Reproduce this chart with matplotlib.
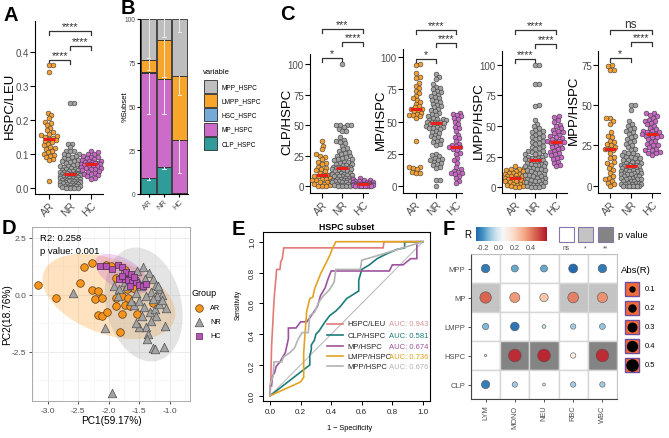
import numpy as np
import matplotlib
matplotlib.use('Agg')
import matplotlib.pyplot as plt
from matplotlib.patches import Rectangle
from matplotlib.transforms import blended_transform_factory
from matplotlib.colors import LinearSegmentedColormap, TwoSlopeNorm

plt.rcParams['font.family'] = ['Liberation Sans', 'DejaVu Sans']

# ---------------- data ----------------
groups = ['AR', 'NR', 'HC']
group_colors = ['#F6A033', '#A3A3A3', '#C967C6']

A_AR = [0.363, 0.363, 0.342, 0.222, 0.215, 0.205, 0.195, 0.19, 0.185, 0.178, 0.17, 0.165, 0.16, 0.155,
        0.152, 0.15, 0.148, 0.145, 0.14, 0.138, 0.135, 0.13, 0.125, 0.12, 0.118, 0.115, 0.11, 0.105,
        0.1, 0.098, 0.095, 0.09, 0.085, 0.082, 0.019]
A_NR = [0.251, 0.251, 0.13, 0.13, 0.12, 0.11, 0.11, 0.108, 0.1, 0.1, 0.097, 0.093, 0.09, 0.088, 0.085,
        0.082, 0.08, 0.078, 0.075, 0.073, 0.07, 0.068, 0.066, 0.064, 0.062, 0.06, 0.058, 0.057, 0.055,
        0.053, 0.052, 0.05, 0.049, 0.048, 0.046, 0.045, 0.044, 0.043, 0.042, 0.041, 0.04, 0.04, 0.039,
        0.038, 0.037, 0.036, 0.035, 0.034, 0.033, 0.032, 0.031, 0.03, 0.029, 0.028, 0.027, 0.026, 0.025,
        0.024, 0.023, 0.022, 0.021, 0.02, 0.019, 0.018, 0.017, 0.016, 0.015, 0.014, 0.013, 0.012, 0.011,
        0.01, 0.009, 0.008, 0.007, 0.006, 0.005, 0.004, 0.003, 0.002, 0.001, 0.0, 0.0, 0.0]
A_HC = [0.11, 0.105, 0.1, 0.1, 0.095, 0.092, 0.09, 0.088, 0.085, 0.083, 0.08, 0.078, 0.076, 0.075, 0.074,
        0.072, 0.071, 0.07, 0.07, 0.069, 0.068, 0.066, 0.065, 0.063, 0.062, 0.06, 0.058, 0.056, 0.055,
        0.052, 0.05, 0.048, 0.045, 0.042, 0.04, 0.037, 0.034, 0.03, 0.027]

CLP_AR = [37, 33, 30, 26, 25, 24, 22, 20, 19, 18, 16, 15, 14, 13, 12, 11, 10, 9, 9, 8, 8, 7, 6, 6, 5, 5, 4,
          3, 3, 2, 2, 1, 0, 0, 0]
CLP_NR = [100, 50, 50, 50, 50, 48, 47, 45, 45, 40, 38, 37, 36, 35, 33, 31, 30, 29, 28, 27, 26, 25, 25, 24,
          23, 22, 22, 21, 20, 20, 19, 18, 18, 17, 17, 16, 16, 16, 15, 15, 15, 15, 14, 14, 13, 13, 12, 12,
          11, 11, 10, 10, 10, 9, 9, 8, 8, 8, 7, 7, 6, 6, 6, 5, 5, 5, 4, 4, 4, 3, 3, 3, 2, 2, 2, 1, 1, 1, 0,
          0, 0, 0]
CLP_HC = [7, 6, 5, 5, 4, 4, 3, 3, 3, 2.5, 2, 2, 2, 2, 1.5, 1.5, 1.5, 1.4, 1.4, 1.2, 1, 1, 1, 0.8, 0.6,
          0.5, 0.5, 0.3, 0, 0, 0, 0, 0, 0, 0]

MP_AR = [95, 94, 88, 85, 84, 80, 78, 76, 74, 72, 70, 68, 67, 65, 64, 62, 61, 60, 60, 59, 58, 57, 56, 55,
         55, 54, 53, 35, 15, 15, 14, 13, 11, 10, 10]
MP_NR = [87, 85, 83, 79, 77, 76, 75, 74, 73, 72, 71, 70, 69, 68, 67, 66, 65, 64, 63, 62, 61, 60, 59, 58,
         57, 56, 55, 54, 53, 52, 52, 51, 51, 50, 50, 50, 50, 49, 49, 48, 48, 47, 47, 46, 46, 45, 45, 44,
         43, 42, 41, 40, 39, 38, 37, 36, 35, 34, 33, 32, 25, 24, 23, 22, 21, 20, 20, 19, 18, 17, 16, 15,
         14, 5, 5, 0]
MP_HC = [57, 56, 55, 54, 53, 52, 50, 48, 46, 45, 43, 40, 38, 37, 35, 33, 32, 31, 30, 30, 29, 28, 26, 25,
         22, 20, 18, 15, 13, 12, 11, 10, 10, 9, 8, 6, 4, 2]

LMPP_AR = [17, 16, 15, 15, 14, 13, 13, 12, 12, 11, 11, 10, 10, 9, 9, 9, 8, 8, 8, 7, 7, 6, 6, 5, 5, 4, 4,
           3, 3, 2, 2, 1, 1, 0, 0]
LMPP_NR = [100, 100, 84, 84, 67, 66, 55, 52, 50, 48, 47, 46, 45, 44, 43, 42, 41, 40, 39, 38, 37, 36, 35,
           34, 33, 32, 31, 30, 30, 29, 28, 27, 27, 26, 25, 25, 24, 24, 23, 23, 22, 22, 22, 21, 21, 20,
           20, 19, 19, 18, 18, 17, 17, 16, 16, 15, 15, 14, 14, 13, 12, 12, 11, 10, 10, 9, 9, 8, 8, 7, 6,
           6, 5, 5, 4, 4, 3, 3, 2, 2, 1, 1, 0, 0, 0]
LMPP_HC = [58, 57, 55, 53, 51, 50, 48, 47, 46, 45, 44, 43, 42, 41, 40, 39, 38, 38, 37, 37, 36, 35, 34,
           33, 32, 31, 30, 29, 28, 27, 26, 25, 24, 23, 21, 20, 18, 17]

MPP_AR = [75, 74, 72, 72, 42, 42, 40, 38, 33, 31, 30, 28, 27, 26, 25, 24, 23, 23, 22, 20, 18, 17, 15, 14,
          13, 11, 10, 8, 6, 5, 4, 3, 2, 1, 0]
MPP_NR = [50, 50, 47, 40, 38, 37, 36, 35, 34, 33, 32, 31, 30, 29, 28, 27, 26, 25, 24, 23, 22, 21, 20, 20,
          19, 19, 18, 18, 17, 17, 16, 16, 15, 15, 14, 14, 13, 13, 13, 12, 12, 12, 12, 11, 11, 11, 10, 10,
          10, 9, 9, 9, 8, 8, 8, 7, 7, 7, 6, 6, 6, 5, 5, 5, 4, 4, 4, 3, 3, 3, 2, 2, 2, 1, 1, 1, 1, 0, 0, 0,
          0, 0, 0, 0, 0]
MPP_HC = [45, 45, 44, 43, 42, 41, 40, 40, 39, 38, 37, 36, 35, 34, 34, 33, 33, 32, 32, 32, 31, 31, 30, 30,
          29, 28, 27, 26, 25, 25, 24, 23, 22, 22, 21, 20, 20, 19]

# panel B: stacked mean composition (%) and sd
B_subsets = ['CLP_HSPC', 'MP_HSPC', 'HSC_HSPC', 'LMPP_HSPC', 'MPP_HSPC']
B_colors = {'MPP_HSPC': '#BEBEBE', 'LMPP_HSPC': '#F8A62B', 'HSC_HSPC': '#74A9D8',
            'MP_HSPC': '#CD6BC9', 'CLP_HSPC': '#2F9C99'}
B_mean = {'CLP_HSPC': [9.0, 15.5, 0.8], 'MP_HSPC': [60.0, 50.0, 30.2], 'HSC_HSPC': [0.5, 0.5, 0.0],
          'LMPP_HSPC': [7.0, 22.0, 36.5], 'MPP_HSPC': [23.5, 12.0, 32.5]}
B_sd = {'CLP_HSPC': [1.0, 1.2, 0.3], 'MP_HSPC': [23.5, 19.8, 19.0], 'HSC_HSPC': [0, 0, 0],
        'LMPP_HSPC': [5.5, 21.0, 11.0], 'MPP_HSPC': [22.3, 10.0, 7.6]}

# panel D: PCA scores
D_AR_x = [-3.16, -2.86, -2.47, -2.40, -2.28, -2.28, -2.18, -2.23, -2.12, -2.17, -2.11, -2.03, -2.04,
          -1.96, -1.88, -1.88, -1.81, -1.78, -1.78, -1.74, -1.70, -1.69, -1.66, -1.74, -1.60, -1.54,
          -1.28, -1.88]
D_AR_y = [0.45, -0.13, 0.53, 1.23, 1.39, 0.23, 0.18, -0.18, -0.13, -0.86, -0.91, -0.76, 1.32, 1.26,
          -0.13, -0.47, -1.61, -0.04, -0.85, -0.44, 0.26, -0.13, -0.50, 1.10, 0.29, -0.85, -0.37, 0.75]
D_NR_x = [-2.58, -2.07, -1.95, -1.77, -1.66, -1.74, -1.91, -1.44, -1.34, -1.28, -1.22, -1.17, -1.13,
          -1.21, -1.31, -1.39, -1.47, -1.55, -1.58, -1.50, -1.42, -1.33, -1.25, -1.17, -1.07, -1.22,
          -1.31, -1.39, -1.36, -1.38, -1.27, -1.25, -1.10, -1.08, -1.50, -1.63, -1.62, -1.52, -1.40,
          -1.54, -1.70, -1.83, -1.85, -1.13, -1.28, -1.45, -1.56, -1.19]
D_NR_y = [0.09, -1.46, -4.30, 1.02, 0.82, 0.56, 0.38, 1.21, 0.96, 0.70, 0.44, 0.26, 0.01, -0.03, 0.12,
          -0.03, 0.41, 0.09, -0.44, -0.25, -0.54, -0.76, -0.61, -0.39, -0.58, -0.91, -1.13, -1.42, -1.71,
          -1.93, -2.34, -2.37, -2.30, -1.36, -1.39, -0.25, 0.70, 0.63, 0.70, 1.07, 0.41, 0.26, -0.03,
          -0.22, -0.18, -0.91, -1.23, 0.38]
D_HC_x = [-2.15, -2.05, -1.95, -1.85, -1.78, -1.72, -1.64, -1.84, -1.74, -1.68, -1.62, -1.55, -1.51,
          -1.65, -1.58, -1.44, -1.39, -1.79]
D_HC_y = [1.26, 1.29, 1.14, 1.33, 1.21, 1.02, 0.92, 0.70, 0.70, 0.66, 0.56, 0.58, 0.44, 0.38, 0.77,
          0.38, 0.48, 0.85]
# 95% ellipse summaries (center x, center y, half-range x, half-range y, correlation)
D_ellipses = {'AR': (-2.0, -0.07, 1.09, 1.87, -0.40),
              'NR': (-1.43, -0.42, 0.64, 2.50, -0.20),
              'HC': (-1.78, 0.92, 0.45, 0.88, -0.55)}
D_stats = ['R2: 0.258', 'p value: 0.001']

# panel E: ROC curves
E_names = ['HSPC/LEU', 'CLP/HSPC', 'MP/HSPC', 'LMPP/HSPC', 'MPP/HSPC']
E_auc = [0.943, 0.581, 0.674, 0.736, 0.676]
E_colors = ['#E07B78', '#1C7C7B', '#9D529D', '#E2A222', '#B3B3B3']
E_auc_colors = ['#D7959B', '#1C7C7B', '#9D529D', '#E2A222', '#B3B3B3']
E_fpr = [
    [0, 0.005, 0.01, 0.017, 0.025, 0.03, 0.04, 0.043, 0.065, 0.07, 0.08, 0.087, 0.09, 0.74, 0.745, 1.0],
    [0, 0.26, 0.26, 0.27, 0.27, 0.29, 0.30, 0.32, 0.34, 0.36, 0.39, 0.43, 0.46, 0.50, 0.58, 0.58, 0.60,
     0.65, 0.70, 0.76, 0.83, 0.88, 0.88, 1.0],
    [0, 0, 0.01, 0.017, 0.03, 0.04, 0.065, 0.1, 0.12, 0.12, 0.17, 0.2, 0.24, 0.27, 0.31, 0.33, 0.36, 0.38,
     0.40, 0.78, 0.80, 0.87, 0.92, 0.96, 0.96, 1.0],
    [0, 0.20, 0.22, 0.22, 0.23, 0.24, 0.26, 0.28, 0.29, 0.31, 0.33, 0.35, 0.37, 0.39, 0.41, 0.43, 1.0],
    [0, 0, 0.02, 0.026, 0.076, 0.087, 0.13, 0.16, 0.185, 0.21, 0.25, 0.26, 0.29, 0.32, 0.35, 0.39, 0.42,
     0.43, 0.59, 0.60, 0.67, 1.0]]
E_tpr = [
    [0, 0.1, 0.32, 0.45, 0.6, 0.67, 0.78, 0.82, 0.82, 0.87, 0.89, 0.94, 0.96, 0.96, 1.0, 1.0],
    [0, 0.20, 0.26, 0.30, 0.33, 0.36, 0.40, 0.42, 0.45, 0.48, 0.52, 0.55, 0.58, 0.63, 0.68, 0.75, 0.82,
     0.85, 0.89, 0.92, 0.95, 0.96, 1.0, 1.0],
    [0, 0.065, 0.065, 0.13, 0.15, 0.19, 0.22, 0.28, 0.37, 0.44, 0.44, 0.48, 0.48, 0.52, 0.58, 0.65, 0.70,
     0.76, 0.81, 0.81, 0.85, 0.85, 0.89, 0.89, 1.0, 1.0],
    [0, 0.09, 0.12, 0.28, 0.42, 0.55, 0.63, 0.64, 0.69, 0.74, 0.79, 0.83, 0.87, 0.91, 0.96, 1.0, 1.0],
    [0, 0.065, 0.13, 0.22, 0.22, 0.25, 0.28, 0.31, 0.37, 0.41, 0.41, 0.52, 0.54, 0.61, 0.65, 0.69, 0.74,
     0.82, 0.82, 0.88, 0.90, 1.0]]

# panel F: correlation matrix
F_rows = ['MPP', 'MP', 'LMPP', 'HSPC', 'CLP']
F_cols = ['LYM', 'MONO', 'NEU', 'RBC', 'WBC']
F_R = [[-0.25, -0.17, -0.17, -0.28, -0.25],
       [0.45, 0.35, 0.24, 0.40, 0.36],
       [-0.14, -0.26, -0.05, -0.10, -0.12],
       [0.02, 0.56, 0.57, 0.10, 0.56],
       [-0.24, -0.10, -0.03, -0.10, -0.10]]
F_p = [[0, 0, 0, 0, 0],
       [1, 0, 0, 1, 1],
       [0, 0, 0, 0, 0],
       [0, 2, 2, 0, 2],
       [0, 0, 0, 0, 0]]
F_plabels = ['ns', '*', '**']
F_pcolors = ['#FFFFFF', '#C4C4C4', '#848484']
F_size_levels = [0.1, 0.2, 0.3, 0.4, 0.5]
F_cbar_ticks = [-0.2, 0.0, 0.2, 0.4]

# ---------------- figure ----------------
W, H = 669, 439
fig = plt.figure(figsize=(W / 100, H / 100), dpi=100)


def add_ax(l, t, r, b, **kw):
    return fig.add_axes([l / W, 1 - b / H, (r - l) / W, (b - t) / H], **kw)


def classic(ax, fs=7):
    for s in ['top', 'right']:
        ax.spines[s].set_visible(False)
    for s in ['left', 'bottom']:
        ax.spines[s].set_linewidth(0.8)
        ax.spines[s].set_color('black')
    ax.tick_params(length=3.5, width=0.8, color='black', labelsize=fs, labelcolor='#4D4D4D', pad=0.9)


def swarm_offsets(vals, ppu, dcol=3.9, step=0.5, maxw=10.0):
    order = np.argsort(vals, kind='stable')
    cands = [0.0]
    k = 1
    while k * step <= maxw:
        cands += [k * step, -k * step]
        k += 1
    placed = []
    offs = np.zeros(len(vals))
    for i in order:
        y = vals[i] * ppu
        near = [(px, py) for px, py in placed if abs(py - y) < dcol]
        best = None
        bestd, bestc = -1, 0.0
        for c in cands:
            if not near:
                best = c
                break
            dmin = min(np.hypot(c - px, y - py) for px, py in near)
            if dmin >= dcol:
                best = c
                break
            if dmin > bestd:
                bestd, bestc = dmin, c
        if best is None:
            best = bestc
        offs[i] = best
        placed.append((best, y))
    return offs


def dot_panel(rect, series, ylim, yticks, yticklabels, xlim, brackets):
    l, t, r, b = rect
    ax = add_ax(l, t, r, b)
    ax.set_xlim(xlim)
    ax.set_ylim(ylim)
    ppu_y = (b - t) / (ylim[1] - ylim[0])
    ppu_x = (r - l) / (xlim[1] - xlim[0])
    for gi, (vals, col) in enumerate(zip(series, group_colors)):
        vals = np.asarray(vals, float)
        offs = swarm_offsets(vals, ppu_y)
        ax.scatter(gi + 1 + offs / ppu_x, vals, s=12, c=col, edgecolors='#3A3A3A', linewidths=0.4,
                   zorder=3, clip_on=False)
        med = np.median(vals)
        ax.plot([gi + 1 - 6 / ppu_x, gi + 1 + 6 / ppu_x], [med, med], color='#E8201C', lw=2.2,
                zorder=4, solid_capstyle='butt', clip_on=False)
    classic(ax, fs=7)
    ax.set_yticks(yticks)
    ax.set_yticklabels(yticklabels)
    ax.set_xticks([1, 2, 3])
    ax.set_xticklabels(groups, rotation=45, ha='right', va='top', rotation_mode='anchor', fontsize=7.5)
    tr = blended_transform_factory(ax.transData, ax.transAxes)
    hpx = b - t
    for g1, g2, ypx, lab in brackets:
        ya = (b - ypx) / hpx
        tk = 3.5 / hpx
        ax.plot([g1, g1, g2, g2], [ya - tk, ya, ya, ya - tk], transform=tr, color='#333333', lw=0.9,
                clip_on=False)
        if lab == 'ns':
            ax.text((g1 + g2) / 2, ya + 3.0 / hpx, lab, transform=tr, ha='center', va='baseline',
                    fontsize=8.5, color='#333333')
        else:
            ax.text((g1 + g2) / 2, ya + 1.5 / hpx, lab, transform=tr, ha='center', va='baseline',
                    fontsize=7.8, color='#333333')
    return ax


# ---- A ----
axA = dot_panel((35, 22, 103, 195), [A_AR, A_NR, A_HC], (-0.018, 0.492),
                [0, 0.1, 0.2, 0.3, 0.4], ['0.0', '0.1', '0.2', '0.3', '0.4'], (0.309, 3.594),
                [(1, 3, 32, '****'), (2, 3, 47, '****'), (1, 2, 61, '****')])

# ---- C panels ----
c_ticks100 = [0, 25, 50, 75, 100]
dot_panel((310, 55, 368, 194), [CLP_AR, CLP_NR, CLP_HC], (-5.7, 108.2), c_ticks100,
          [str(v) for v in c_ticks100], (0.415, 3.244),
          [(1, 3, 30, '***'), (2, 3, 43, '****'), (1, 2, 59, '*')])
dot_panel((403, 50, 462, 194), [MP_AR, MP_NR, MP_HC], (-5.4, 106.4), c_ticks100,
          [str(v) for v in c_ticks100], (0.371, 3.297),
          [(1, 3, 31, '****'), (2, 3, 44, '****'), (1, 2, 60, '*')])
dot_panel((502, 52, 567, 194), [LMPP_AR, LMPP_NR, LMPP_HC], (-4.6, 111.1), c_ticks100,
          [str(v) for v in c_ticks100], (0.366, 3.537),
          [(1, 3, 31, '****'), (2, 3, 45, '****'), (1, 2, 60, '****')])
dot_panel((598, 52, 660, 194), [MPP_AR, MPP_NR, MPP_HC], (-4.5, 83.5), [0, 25, 50, 75],
          ['0', '25', '50', '75'], (0.424, 3.4),
          [(1, 3, 31, 'ns'), (2, 3, 43, '****'), (1, 2, 59, '*')])

# ---- B ----
axB = add_ax(140, 20, 188, 195)
axB.set_xlim(0.45, 3.55)
axB.set_ylim(0, 100)
xs = np.array([1, 2, 3])
bottoms = np.zeros(3)
for sub in B_subsets:
    h = np.array(B_mean[sub])
    axB.bar(xs, h, bottom=bottoms, width=0.94, color=B_colors[sub], edgecolor='#2B2B2B', lw=0.6,
            zorder=2)
    tops = bottoms + h
    sd = np.array(B_sd[sub])
    for xi, tp, s in zip(xs, tops, sd):
        if s > 0.5:
            axB.plot([xi, xi], [tp - s, tp], color='#EDEDED', lw=0.7, zorder=3)
            axB.plot([xi - 0.12, xi + 0.12], [tp - s, tp - s], color='#EDEDED', lw=0.7, zorder=3)
    bottoms = tops
classic(axB, fs=4.8)
axB.tick_params(length=2, pad=1)
axB.set_yticks([0, 25, 50, 75, 100])
axB.set_xticks([1, 2, 3])
axB.set_xticklabels(groups, rotation=45, ha='right', va='top', rotation_mode='anchor', fontsize=5.5)

# ---- D ----
axD = add_ax(32, 228, 190, 402)
axD.set_xlim(-3.26, -0.67)
axD.set_ylim(-4.65, 2.98)
axD.set_xticks([-3.0, -2.5, -2.0, -1.5, -1.0])
axD.set_xticklabels(['-3.0', '-2.5', '-2.0', '-1.5', '-1.0'])
axD.set_yticks([2.5, 0.0, -2.5])
axD.set_yticklabels(['2.5', '0.0', '-2.5'])
axD.set_xticks([-3.25, -2.75, -2.25, -1.75, -1.25, -0.75], minor=True)
axD.set_yticks([1.25, -1.25, -3.75], minor=True)
axD.grid(True, which='major', color='#EBEBEB', lw=0.7, zorder=0)
axD.grid(True, which='minor', color='#F4F4F4', lw=0.5, zorder=0)
axD.set_axisbelow(True)
axD.tick_params(which='minor', length=0)
axD.tick_params(which='major', length=2.5, width=0.6, color='#333333', labelsize=6,
                labelcolor='#4D4D4D', pad=1.5)
for s in axD.spines.values():
    s.set_color('#AAAAAA')
    s.set_linewidth(0.7)
ell_fill = {'AR': '#FF9A1F', 'NR': '#A0A0A0', 'HC': '#C25BC0'}
t = np.linspace(0, 2 * np.pi, 300)
for g in groups:
    cx, cy, dx, dy, rho = D_ellipses[g]
    dl = np.arccos(rho)
    axD.fill(cx + dx * np.cos(t), cy + dy * np.cos(t - dl), color=ell_fill[g], alpha=0.28, lw=0,
             zorder=1)
axD.scatter(D_AR_x, D_AR_y, s=30, marker='o', c='#F7941D', edgecolors='#5A3A10', linewidths=0.5,
            zorder=3)
axD.scatter(D_NR_x, D_NR_y, s=38, marker='^', c='#A3A3A3', edgecolors='#505050', linewidths=0.5,
            zorder=3)
axD.scatter(D_HC_x, D_HC_y, s=22, marker='s', c='#B854B6', edgecolors='#4A2A4A', linewidths=0.5,
            zorder=4)

# ---- E ----
axE = add_ax(263, 233, 430, 402)
axE.set_xlim(-0.046, 1.046)
axE.set_ylim(-0.034, 1.063)
axE.plot([0, 1], [0, 1], color='#BDBDBD', lw=0.8, zorder=1)
for fx, ty, col in zip(E_fpr, E_tpr, E_colors):
    axE.plot(fx, ty, color=col, lw=1.2, zorder=2, solid_joinstyle='miter')
eticks = [0, 0.2, 0.4, 0.6, 0.8, 1.0]
axE.set_xticks(eticks)
axE.set_xticklabels(['%.1f' % v for v in eticks])
axE.set_yticks(eticks)
axE.set_yticklabels(['%.1f' % v for v in eticks], rotation=90, va='center')
for s in axE.spines.values():
    s.set_color('black')
    s.set_linewidth(0.8)
axE.tick_params(length=3, width=0.7, labelsize=5.8, labelcolor='#222222', pad=2)
leg_y = [0.466, 0.394, 0.323, 0.258, 0.193]
for yy, nm, auc, col, acol in zip(leg_y, E_names, E_auc, E_colors, E_auc_colors):
    axE.plot([0.37, 0.48], [yy, yy], color=col, lw=1.2)
    axE.text(0.505, yy, nm, fontsize=5.5, va='center', ha='left', color='#222222')
    axE.text(0.78, yy, 'AUC: %.3f' % auc, fontsize=5.5, va='center', ha='left', color=acol)

# ---- F ----
cmap = LinearSegmentedColormap.from_list('rb', ['#2166AC', '#4393C3', '#92C5DE', '#D1E5F0', '#F7F7F7',
                                                '#FDDBC7', '#F4A582', '#D6604D', '#B2182B'])
norm = TwoSlopeNorm(vmin=-0.29, vcenter=0.05, vmax=0.60)
axF = add_ax(471, 255, 617, 400)
axF.set_xlim(0.5, 5.5)
axF.set_ylim(5.5, 0.5)
Rm = np.array(F_R)
for i in range(len(F_rows)):
    for j in range(len(F_cols)):
        axF.add_patch(Rectangle((j + 0.5, i + 0.5), 1, 1, facecolor=F_pcolors[F_p[i][j]],
                                edgecolor='#D6D6D6', lw=1.0, zorder=1))
ii, jj = np.meshgrid(np.arange(len(F_rows)), np.arange(len(F_cols)), indexing='ij')
sizes = (17 * np.sqrt(np.abs(Rm)) * 0.72) ** 2
axF.scatter(jj.ravel() + 1, ii.ravel() + 1, s=sizes.ravel(), c=cmap(norm(Rm.ravel())),
            edgecolors='#555555', linewidths=0.4, zorder=3)
axF.set_xticks(range(1, 6))
axF.set_xticklabels(F_cols, rotation=90, fontsize=5.3, color='#4D4D4D')
axF.set_yticks(range(1, 6))
axF.set_yticklabels(F_rows, fontsize=5.5, color='#4D4D4D')
axF.tick_params(length=2.5, width=0.6, color='#333333', pad=1.5)
for s in ['left', 'bottom']:
    axF.spines[s].set_color('#444444')
    axF.spines[s].set_linewidth(0.8)
for s in ['top', 'right']:
    axF.spines[s].set_color('#BBBBBB')
    axF.spines[s].set_linewidth(0.6)

# colorbar
axCB = add_ax(476, 228, 547, 242)
grad = np.linspace(-0.29, 0.60, 256)
axCB.imshow(cmap(norm(grad))[None, :, :], extent=[-0.29, 0.60, 0, 1], aspect='auto')
axCB.set_xlim(-0.29, 0.60)
axCB.set_yticks([])
axCB.set_xticks(F_cbar_ticks)
axCB.set_xticklabels(['%.1f' % v for v in F_cbar_ticks], fontsize=5.2, color='#4D4D4D')
axCB.tick_params(length=1.5, width=0.5, pad=0.5, color='white')
for s in axCB.spines.values():
    s.set_visible(False)

# ---------------- overlay: labels & legends ----------------
axO = fig.add_axes([0, 0, 1, 1], zorder=10)
axO.set_xlim(0, W)
axO.set_ylim(H, 0)
axO.axis('off')
axO.patch.set_alpha(0)

for x, y, s in [(4, 21, 'A'), (121, 14, 'B'), (280, 20, 'C'), (2, 234, 'D'), (232, 235, 'E'),
                (443, 235, 'F')]:
    axO.text(x, y, s, fontsize=14.5, fontweight='bold', ha='left', va='baseline')

for x, y, s in [(10, 106, 'HSPC/LEU'), (287, 122, 'CLP/HSPC'), (381, 120, 'MP/HSPC'),
                (479, 121, 'LMPP/HSPC'), (574, 110, 'MPP/HSPC')]:
    axO.text(x, y, s, fontsize=9.5, rotation=90, ha='center', va='center')
axO.text(125, 107, '%Subset', fontsize=5.5, rotation=90, ha='center', va='center')

# B legend
axO.text(203, 73, 'variable', fontsize=5.5, ha='left', va='center')
for k, sub in enumerate(['MPP_HSPC', 'LMPP_HSPC', 'HSC_HSPC', 'MP_HSPC', 'CLP_HSPC']):
    y0 = 81 + k * 14.2
    axO.add_patch(Rectangle((204, y0), 13, 13, facecolor=B_colors[sub], edgecolor='#2B2B2B', lw=0.6))
    axO.text(222, y0 + 6.5, sub, fontsize=4.7, ha='left', va='center')

# D texts and legend
axO.text(40, 239, D_stats[0], fontsize=6.8, ha='left', va='center')
axO.text(40, 252, D_stats[1], fontsize=6.8, ha='left', va='center')
axO.text(111, 421, 'PC1(59.17%)', fontsize=7.3, ha='center', va='center')
axO.text(7, 315, 'PC2(18.76%)', fontsize=7.3, rotation=90, ha='center', va='center')
axO.text(192, 294, 'Group', fontsize=6.5, ha='left', va='center')
axO.scatter([199], [309], s=30, marker='o', c='#F7941D', edgecolors='#5A3A10', linewidths=0.5)
axO.scatter([199], [323], s=38, marker='^', c='#A3A3A3', edgecolors='#505050', linewidths=0.5)
axO.scatter([199], [337], s=22, marker='s', c='#B854B6', edgecolors='#4A2A4A', linewidths=0.5)
for y, s in [(309, 'AR'), (323, 'NR'), (337, 'HC')]:
    axO.text(210, y, s, fontsize=5.2, ha='left', va='center')

# E titles
axO.text(347, 228, 'HSPC subset', fontsize=6.3, fontweight='bold', ha='center', va='center')
axO.text(350, 429, '1 \u2212 Specificity', fontsize=5.3, ha='center', va='center')
axO.text(238, 305, 'Sensitivity', fontsize=4.8, rotation=90, ha='center', va='center')

# F legends
axO.text(468, 235, 'R', fontsize=7, ha='center', va='center')
for k, (x0, lab) in enumerate(zip([559, 578, 598], F_plabels)):
    axO.add_patch(Rectangle((x0, 228), 15, 15, facecolor=F_pcolors[k], edgecolor='#8577A8', lw=0.8))
    axO.text(x0 + 7.5, 249, lab, fontsize=4.8, ha='center', va='center', color='#4D4D4D')
axO.text(618, 236, 'p value', fontsize=6.6, ha='left', va='center')
axO.text(621, 271, 'Abs(R)', fontsize=6.8, ha='left', va='center')
for k, lv in enumerate(F_size_levels):
    yc = 290 + k * 19
    axO.add_patch(Rectangle((625, yc - 7), 14, 14, facecolor='#F26B3A', edgecolor='#6E4C9E', lw=1.0))
    axO.scatter([632], [yc], s=(17 * np.sqrt(lv) * 0.72) ** 2 * 0.85, c='black')
    axO.text(645, yc, '%.1f' % lv, fontsize=5.4, ha='left', va='center')

fig.savefig('out.png', dpi=100)
